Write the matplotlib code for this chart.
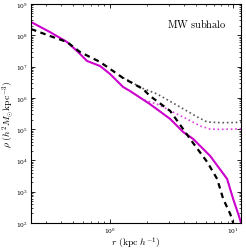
import numpy as np
import matplotlib
matplotlib.use('Agg')
import matplotlib.pyplot as plt

plt.rcParams['mathtext.fontset'] = 'cm'
plt.rcParams['font.family'] = 'DejaVu Serif'

# profiles: r in kpc/h, rho in h^2 Msun kpc^-3
r_mag = [0.228, 0.325, 0.447, 0.550, 0.650, 0.830, 1.0, 1.276, 1.45, 2.11, 3.08,
         3.92, 4.73, 6.50, 8.93, 10.0, 10.99, 11.6]
rho_mag = [2.66e8, 1.27e8, 6.11e7, 2.92e7, 1.51e7, 1.04e7, 5.79e6, 2.22e6, 1.66e6,
           6.3e5, 2.11e5, 8.1e4, 4.85e4, 1.39e4, 2.55e3, 586, 195, 100]

r_nfw = [0.228, 0.325, 0.447, 0.570, 0.830, 1.276, 1.85, 2.11, 3.08, 3.92, 4.47,
         6.15, 7.41, 8.30, 9.46, 10.0]
rho_nfw = [1.59e8, 9.5e7, 6.1e7, 2.92e7, 1.4e7, 4.3e6, 1.92e6, 1.15e6, 3.8e5,
           1.01e5, 4.85e4, 8.9e3, 2.55e3, 586, 195, 100]

r_nfw_bg = [1.276, 1.85, 2.41, 3.70, 5.10, 6.15, 8.0, 10.0, 11.6]
rho_nfw_bg = [4.4e6, 2.0e6, 1.33e6, 5.1e5, 2.45e5, 1.69e5, 1.6e5, 1.62e5, 1.66e5]

r_mag_bg = [1.9, 2.41, 3.25, 4.22, 5.40, 6.50, 8.0, 10.0, 11.6]
rho_mag_bg = [8.5e5, 6.3e5, 3.5e5, 2.1e5, 1.26e5, 1.0e5, 0.98e5, 1.0e5, 1.03e5]

fig = plt.figure(figsize=(2.46, 2.51), dpi=100)
ax = fig.add_axes([0.126, 0.108, 0.854, 0.872])

ax.plot(r_nfw_bg, rho_nfw_bg, color='0.35', ls=':', lw=1.2)
ax.plot(r_mag_bg, rho_mag_bg, color='#e040e0', ls=':', lw=1.2)
ax.plot(r_mag, rho_mag, color='#cc00cc', ls='-', lw=1.5)
ax.plot(r_nfw, rho_nfw, color='black', ls=(0, (2.5, 2)), lw=1.6)

ax.set_xscale('log')
ax.set_yscale('log')
ax.set_xlim(0.228, 11.6)
ax.set_ylim(1e2, 1e9)

ax.tick_params(which='both', direction='in', top=True, right=True, labelsize=4.3, pad=2)
ax.tick_params(which='major', length=3, width=0.6)
ax.tick_params(which='minor', length=1.5, width=0.5)
ax.yaxis.set_minor_locator(matplotlib.ticker.LogLocator(base=10, subs=np.arange(2, 10), numticks=20))
ax.yaxis.set_minor_formatter(matplotlib.ticker.NullFormatter())
ax.xaxis.set_minor_formatter(matplotlib.ticker.NullFormatter())
for s in ax.spines.values():
    s.set_linewidth(0.8)

ax.set_xlabel(r'$r\ (\mathrm{kpc}\ h^{-1})$', fontsize=7, labelpad=0)
ax.set_ylabel(r'$\rho\ (h^2 M_{\odot} \mathrm{kpc}^{-3})$', fontsize=7, labelpad=0)
ax.text(0.93, 0.915, r'$\mathrm{MW\ subhalo}$', transform=ax.transAxes,
        ha='right', va='center', fontsize=7.5)

fig.savefig('out.png', dpi=100)
